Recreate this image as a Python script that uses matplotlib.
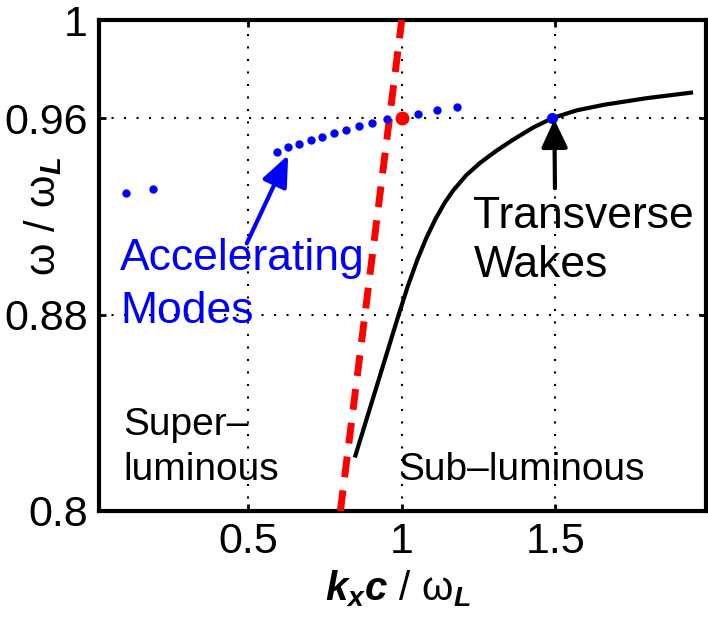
import matplotlib
matplotlib.use("Agg")
import matplotlib.pyplot as plt

plt.rcParams['font.family'] = ['Liberation Sans', 'DejaVu Sans']
plt.rcParams['mathtext.fontset'] = 'custom'
plt.rcParams['mathtext.rm'] = 'Liberation Sans'
plt.rcParams['mathtext.it'] = 'Liberation Sans:italic:bold'
plt.rcParams['mathtext.bf'] = 'Liberation Sans:bold'

# ---- data ----
acc_k = [0.102, 0.189, 0.592, 0.628, 0.664, 0.704, 0.741, 0.780, 0.818, 0.861,
         0.903, 0.952, 1.054, 1.115, 1.180]
acc_w = [0.9295, 0.9311, 0.9464, 0.9482, 0.9495, 0.9510, 0.9525, 0.9538, 0.9552,
         0.9567, 0.9582, 0.9597, 0.9619, 0.9632, 0.9645]

wake_k = [0.849, 0.99, 1.02, 1.05, 1.08, 1.11, 1.14, 1.167, 1.211, 1.255, 1.309,
          1.362, 1.428, 1.49, 1.57, 1.66, 1.80, 1.942]
wake_w = [0.8226, 0.8800, 0.8917, 0.9021, 0.9112, 0.9190, 0.9256, 0.9305, 0.9369,
          0.9418, 0.9468, 0.9512, 0.9562, 0.9600, 0.9632, 0.9655, 0.9682, 0.9704]

light_k = [0.8, 1.0]
light_w = [0.8, 1.0]

red_pt = (1.0, 0.96)
blue_pt = (1.49, 0.9602)

xticks = [0.5, 1, 1.5]
xticklabels = ['0.5', '1', '1.5']
yticks = [0.8, 0.88, 0.96, 1.0]
yticklabels = ['0.8', '0.88', '0.96', '1']

# ---- figure ----
fig = plt.figure(figsize=(7.08, 6.24), dpi=100)
ax = fig.add_axes([99/708, 1-511/624, 607/708, 491/624])
ax.set_xlim(0.0137, 1.991)
ax.set_ylim(0.8, 1.0)

ax.set_xticks(xticks)
ax.set_xticklabels(xticklabels)
ax.set_yticks(yticks)
ax.set_yticklabels(yticklabels)
ax.tick_params(direction='in', length=5, width=2, labelsize=31, pad=8,
               top=True, right=True)
ax.grid(True, color='black', linestyle=(0, (1, 5)), linewidth=1.5)
for s in ax.spines.values():
    s.set_linewidth(3)

ax.plot(light_k, light_w, color='red', linewidth=5, linestyle=(0, (3.0, 1.9)),
        zorder=3)
ax.plot(wake_k, wake_w, color='black', linewidth=3, zorder=3,
        solid_joinstyle='round')
ax.plot(acc_k, acc_w, linestyle='none', marker='o', markersize=5,
        color='blue', markeredgewidth=1, zorder=4)
ax.plot([red_pt[0]], [red_pt[1]], linestyle='none', marker='o', markersize=9,
        color='red', zorder=5)
ax.plot([blue_pt[0]], [blue_pt[1]], linestyle='none', marker='o', markersize=7,
        color='blue', zorder=5)

# arrows
ax.annotate('', xy=(0.630, 0.945), xytext=(0.495, 0.909),
            arrowprops=dict(arrowstyle='-|>,head_length=1.0,head_width=0.42',
                            mutation_scale=19, lw=3, color='blue',
                            shrinkA=0, shrinkB=0), zorder=6)
ax.annotate('', xy=(1.497, 0.9595), xytext=(1.499, 0.9315),
            arrowprops=dict(arrowstyle='-|>,head_length=1.0,head_width=0.47',
                            mutation_scale=17, lw=3, color='black',
                            shrinkA=0, shrinkB=0), zorder=6)

# texts
ax.text(0.082, 0.8982, 'Accelerating', color='blue', fontsize=32, va='baseline', ha='left')
ax.text(0.082, 0.8767, 'Modes', color='blue', fontsize=32, va='baseline', ha='left')
ax.text(1.233, 0.9153, 'Transverse', color='black', fontsize=32, va='baseline', ha='left')
ax.text(1.233, 0.8954, 'Wakes', color='black', fontsize=32, va='baseline', ha='left')
ax.text(0.094, 0.8311, 'Super\u2013', color='black', fontsize=28, va='baseline', ha='left')
ax.text(0.094, 0.8128, 'luminous', color='black', fontsize=28, va='baseline', ha='left')
ax.text(0.989, 0.8128, 'Sub\u2013luminous', color='black', fontsize=28, va='baseline', ha='left')

# axis labels
fig.text(398/708, 1-600/624, r'$k_x c\ /\ \mathrm{\omega}_L$', fontsize=29,
         ha='center', va='baseline')
fig.text(55/708, 1-216/624, r'$\mathrm{\omega\ /\ \omega}_L$', fontsize=30,
         ha='center', va='baseline', rotation=90, rotation_mode='anchor')

fig.savefig('out.png', dpi=100)
